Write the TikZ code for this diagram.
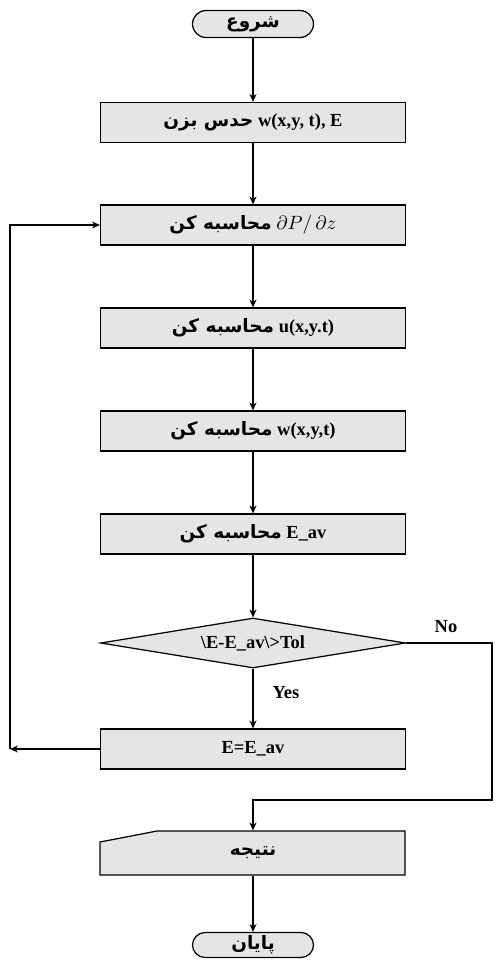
\documentclass[tikz,border=0pt]{standalone}
\usepackage{fontspec}
\setmainfont{Liberation Serif}
\newfontfamily\fafont[Script=Arabic]{DejaVu Sans}
\TeXXeTstate=1
\usetikzlibrary{arrows.meta, calc, shapes.geometric}
\newcommand{\fatext}[1]{{\fafont\beginR #1\endR}}

\tikzset{
  box/.style={draw, fill=black!10, minimum width=6.1cm, minimum height=0.8cm, inner sep=0pt},
  term/.style={draw, fill=black!10, rounded corners=0.27cm, minimum width=2.42cm, minimum height=0.54cm, inner sep=0pt},
  decide/.style={draw, fill=black!10, diamond, aspect=6, minimum width=6.1cm, minimum height=1cm, inner sep=0pt},
}

\begin{document}
\begin{tikzpicture}[x=0.02cm, y=-0.02cm, line width=0.7pt, >={Stealth[length=4.5pt, width=4pt]},
  font=\fontsize{10.5}{12}\selectfont\bfseries]
  \useasboundingbox (0,0) rectangle (496,965);

  \node[term] (start) at (253,24) {\fatext{شروع}};
  \node[box] (guess) at (253,122.5) {\fatext{حدس بزن} w(x,y, t), E};
  \node[box] (calcP) at (253,225) {\fatext{محاسبه کن} $\partial P/\,\partial z$};
  \node[box] (calcU) at (253,328) {\fatext{محاسبه کن}\ u(x,y.t)};
  \node[box] (calcW) at (253,431) {\fatext{محاسبه کن}\ w(x,y,t)};
  \node[box] (calcE) at (253,534) {\fatext{محاسبه کن}\ E\_av};
  \node[decide] (test) at (253,643) {\textbackslash E-E\_av\textbackslash >Tol};
  \node[box] (update) at (253,749) {E=E\_av};

  % result box with a slanted top edge
  \draw[fill=black!10] (100,875) -- (100,842) -- (157,831) -- (405,831) -- (405,875) -- cycle;
  \node[minimum width=6.1cm, minimum height=0.88cm, inner sep=0pt] (result) at (253,853) {\fatext{نتیجه}};
  \node[term, minimum height=0.5cm, rounded corners=0.25cm] (stop) at (253,945) {\fatext{پایان}};

  \node (yes) at (286,693) {Yes};
  \node (no) at (446,627) {No};

  \coordinate (noright) at (492,643);
  \coordinate (nobottom) at (253,800);
  \coordinate (back) at (10,749);

  \draw[->] (start) -- (guess);
  \draw[->] (guess) -- (calcP);
  \draw[->] (calcP) -- (calcU);
  \draw[->] (calcU) -- (calcW);
  \draw[->] (calcW) -- (calcE);
  \draw[->] (calcE) -- (test);
  \draw[->] (test) -- (update);
  \draw[->] (test.east) -- (noright) |- (nobottom) -- (result.north);
  \draw[->] (update.west) -- (back);
  \draw[->] (back) |- (calcP.west);
  \draw[->] (result) -- (stop);
\end{tikzpicture}
\end{document}
